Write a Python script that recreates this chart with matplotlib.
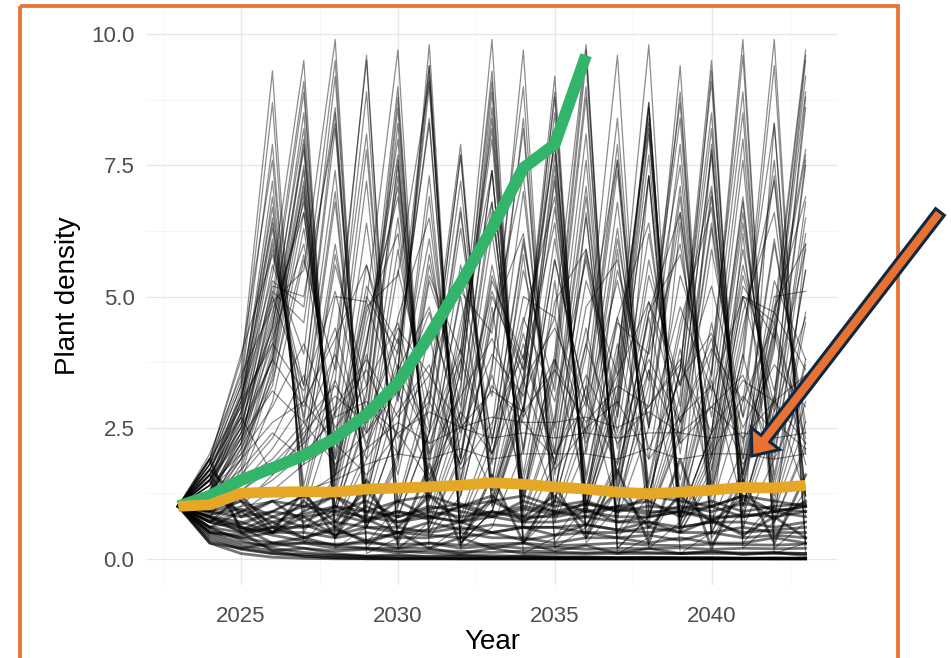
import matplotlib
matplotlib.use('Agg')
import matplotlib.pyplot as plt
import numpy as np
from matplotlib.patches import Rectangle, FancyArrow

plt.rcParams['font.family'] = ['Liberation Sans', 'DejaVu Sans']

years = list(range(2023, 2044))

# simulated runs (one list per run, 2023..2043)
runs_chaotic = [
    [1.0, 1.9, 3.4, 8.7, 0.5, 1.6, 4.2, 7.1, 1.2, 3.6, 9.1, 0.3, 1.1, 3.3, 8.4, 0.8, 2.4, 6.9, 1.5, 4.4, 7.8],
    [1.0, 1.7, 2.9, 6.9, 1.4, 4.0, 9.5, 0.2, 0.7, 2.3, 6.2, 2.1, 5.7, 3.0, 7.6, 1.0, 3.1, 9.3, 0.3, 1.0, 3.0],
    [1.0, 1.5, 3.1, 5.4, 9.5, 0.2, 0.6, 2.0, 5.8, 2.6, 6.8, 1.3, 3.9, 9.7, 0.2, 0.8, 2.6, 7.0, 1.4, 4.1, 8.9],
    [1.0, 2.0, 3.5, 4.8, 8.9, 0.5, 1.5, 4.6, 6.5, 1.9, 5.3, 3.8, 8.0, 0.9, 2.8, 8.1, 0.8, 2.4, 6.6, 2.0, 5.5],
    [1.0, 1.2, 2.2, 4.9, 5.5, 9.9, 0.1, 0.4, 1.4, 4.3, 7.4, 1.1, 3.4, 8.8, 0.5, 1.5, 4.5, 6.7, 1.6, 4.8, 6.0],
    [1.0, 1.6, 2.7, 5.9, 3.0, 7.4, 1.0, 3.1, 9.8, 0.2, 0.6, 2.1, 6.1, 2.3, 6.3, 1.9, 5.4, 3.5, 8.5, 0.7, 2.2],
    [1.0, 0.9, 1.8, 3.9, 7.9, 1.0, 3.2, 8.6, 0.6, 1.9, 5.6, 2.8, 7.2, 1.2, 3.7, 9.8, 0.1, 0.5, 1.6, 4.7, 6.9],
    [1.0, 1.4, 2.5, 5.1, 4.5, 8.6, 0.6, 1.8, 5.3, 3.4, 8.6, 0.6, 1.8, 5.3, 3.5, 8.7, 0.5, 1.6, 4.7, 6.6, 2.0],
    [1.0, 1.8, 3.3, 6.4, 2.2, 6.0, 2.4, 6.5, 1.8, 5.1, 4.3, 9.0, 0.3, 1.0, 3.2, 8.7, 0.5, 1.5, 4.4, 7.2, 1.2],
    [1.0, 1.1, 2.0, 4.3, 7.0, 1.5, 4.5, 6.9, 1.5, 4.5, 6.8, 1.6, 4.9, 5.9, 2.7, 7.3, 1.1, 3.5, 9.6, 0.2, 0.7],
    [1.0, 1.3, 2.6, 5.6, 3.9, 9.2, 0.3, 1.0, 3.0, 7.7, 1.0, 3.2, 8.5, 0.6, 1.8, 5.4, 3.3, 8.2, 0.8, 2.5, 6.5],
    [1.0, 1.9, 3.8, 7.6, 1.1, 3.4, 8.9, 0.4, 1.3, 4.0, 8.2, 0.8, 2.6, 7.1, 1.3, 4.0, 7.5, 1.2, 3.7, 9.4, 0.3],
    [1.0, 0.8, 1.6, 3.5, 6.6, 1.9, 5.2, 4.1, 9.4, 0.3, 0.9, 2.9, 7.5, 1.1, 3.4, 8.6, 0.6, 1.9, 5.6, 2.9, 7.6],
    [1.0, 1.5, 2.8, 6.1, 2.6, 6.8, 1.3, 4.0, 8.3, 0.8, 2.5, 7.0, 1.6, 4.8, 5.7, 2.6, 7.1, 1.3, 3.9, 9.9, 0.1],
    [1.0, 1.7, 3.0, 7.2, 1.2, 3.7, 9.6, 0.2, 0.6, 2.0, 5.4, 3.6, 8.8, 0.5, 1.6, 4.7, 6.6, 1.9, 5.2, 4.2, 9.2],
    [1.0, 1.2, 2.3, 4.6, 8.2, 0.7, 2.1, 5.9, 2.5, 6.7, 1.5, 4.5, 6.9, 1.5, 4.6, 6.4, 2.0, 5.9, 2.7, 7.6, 1.0],
    [1.0, 1.6, 3.2, 6.7, 1.8, 5.0, 4.9, 9.7, 0.2, 0.6, 1.9, 5.5, 3.2, 8.1, 0.8, 2.5, 6.9, 1.4, 4.2, 8.3, 0.8],
    [1.0, 1.0, 1.9, 4.0, 7.5, 1.3, 4.1, 8.0, 0.9, 2.8, 7.4, 1.2, 3.7, 9.5, 0.2, 0.8, 2.3, 6.4, 2.2, 6.1, 2.4],
    [1.0, 1.8, 3.6, 9.3, 0.3, 1.0, 3.1, 8.3, 0.8, 2.5, 6.6, 2.0, 5.7, 3.0, 7.9, 0.9, 2.8, 7.8, 1.0, 3.0, 8.8],
    [1.0, 1.4, 2.4, 5.3, 4.8, 9.5, 0.2, 0.8, 2.4, 6.3, 2.2, 6.0, 2.5, 6.9, 1.4, 4.2, 8.7, 0.5, 1.7, 5.0, 5.1],
    [1.0, 1.3, 2.1, 3.3, 6.3, 2.3, 6.4, 1.9, 5.4, 3.9, 9.9, 0.1, 0.4, 1.2, 3.8, 8.4, 0.7, 2.0, 5.9, 2.5, 6.8],
    [1.0, 1.7, 3.1, 5.0, 9.1, 0.4, 1.2, 3.6, 9.0, 0.4, 1.2, 3.5, 9.2, 0.3, 1.0, 3.0, 7.9, 1.0, 3.0, 7.3, 1.2],
    [1.0, 1.9, 2.9, 4.2, 6.0, 2.7, 7.2, 1.1, 3.3, 7.9, 1.0, 2.9, 6.7, 2.0, 5.5, 3.4, 8.9, 0.4, 1.3, 4.0, 9.5],
    [1.0, 0.9, 1.5, 3.0, 5.7, 3.6, 8.1, 0.8, 2.4, 6.6, 1.8, 5.0, 4.6, 9.8, 0.1, 0.4, 1.3, 3.9, 8.9, 0.4, 1.3],
    [1.0, 1.6, 2.6, 4.4, 7.8, 0.9, 2.7, 7.6, 1.1, 3.3, 8.4, 0.7, 2.1, 5.8, 2.4, 6.2, 2.2, 6.3, 1.9, 5.3, 3.8],
    [1.0, 1.5, 3.0, 6.3, 2.0, 5.6, 3.3, 8.8, 0.5, 1.5, 4.6, 6.2, 2.0, 5.9, 2.9, 7.7, 1.0, 3.1, 8.0, 0.9, 2.6],
    [1.0, 1.2, 2.4, 3.8, 7.1, 1.6, 4.8, 5.4, 9.1, 0.4, 1.1, 3.4, 8.0, 0.9, 2.7, 7.3, 1.2, 3.6, 9.9, 0.1, 0.3],
    [1.0, 1.8, 3.3, 7.9, 0.9, 2.8, 7.8, 1.0, 2.9, 7.2, 1.3, 3.8, 7.9, 1.0, 3.0, 8.6, 0.6, 1.7, 5.0, 4.7, 9.7],
    [1.0, 1.1, 1.9, 3.6, 6.9, 1.7, 5.0, 3.9, 8.4, 0.7, 2.2, 6.1, 2.3, 6.5, 1.5, 4.7, 5.8, 2.7, 7.6, 1.2, 3.8],
    [1.0, 1.4, 2.7, 5.2, 5.0, 8.3, 0.8, 2.5, 7.3, 1.2, 3.7, 8.2, 0.8, 2.5, 6.8, 1.4, 4.3, 7.1, 1.4, 4.2, 7.7],
    [1.0, 1.3, 2.8, 4.4, 8.5, 0.6, 1.9, 5.5, 3.0, 7.7, 1.1, 3.3, 8.9, 0.4, 1.3, 4.0, 8.4, 0.7, 2.1, 6.0, 2.6],
    [1.0, 1.9, 3.9, 5.8, 3.3, 8.5, 0.6, 1.9, 5.6, 2.9, 7.4, 1.2, 3.6, 9.0, 0.4, 1.2, 3.6, 9.1, 0.4, 1.1, 3.4],
    [1.0, 0.8, 1.7, 3.7, 7.2, 1.4, 4.1, 7.7, 1.1, 3.2, 8.9, 0.4, 1.3, 4.1, 7.6, 1.2, 3.6, 8.5, 0.6, 1.9, 5.5],
    [1.0, 1.5, 2.5, 4.7, 6.6, 2.0, 5.6, 3.6, 9.2, 0.3, 0.9, 2.8, 7.7, 1.0, 3.1, 8.2, 0.8, 2.4, 6.8, 1.6, 4.7],
    [1.0, 1.2, 2.2, 5.0, 3.3, 8.2, 0.8, 2.5, 6.9, 1.5, 4.5, 7.3, 1.3, 3.9, 9.6, 0.2, 0.7, 2.2, 6.4, 2.2, 6.2],
    [1.0, 1.7, 2.8, 6.5, 1.9, 5.8, 2.8, 7.5, 1.2, 3.6, 9.3, 0.3, 0.9, 2.8, 7.4, 1.2, 3.6, 9.5, 0.2, 0.7, 2.1],
    [1.0, 1.4, 3.0, 4.1, 8.0, 0.9, 2.6, 7.3, 1.3, 3.8, 8.0, 0.9, 2.7, 7.6, 1.1, 3.3, 9.4, 0.3, 0.9, 2.8, 7.5],
    [1.0, 1.0, 2.1, 4.5, 6.8, 1.6, 4.7, 6.2, 2.0, 5.6, 3.1, 8.4, 0.7, 2.1, 6.1, 2.5, 6.6, 1.7, 5.0, 4.5, 9.6],
    [1.0, 1.8, 3.1, 6.0, 2.7, 7.0, 1.2, 3.6, 9.4, 0.3, 0.9, 2.7, 7.3, 1.3, 3.9, 8.3, 0.8, 2.4, 6.9, 1.5, 4.5],
    [1.0, 1.3, 2.3, 3.8, 7.4, 1.2, 3.7, 9.0, 0.4, 1.2, 3.6, 9.7, 0.2, 0.6, 1.9, 5.7, 2.9, 7.7, 1.0, 3.1, 8.6],
]

runs_moderate = [
    [1.0, 1.3, 1.9, 2.6, 3.0, 2.2, 2.9, 2.4, 2.8, 2.5, 2.7, 2.6, 2.6, 2.7, 2.5, 2.8, 2.4, 2.9, 2.3, 3.0, 2.2],
    [1.0, 0.7, 0.9, 1.3, 1.8, 2.2, 1.6, 2.4, 1.5, 2.6, 1.3, 2.9, 1.1, 3.3, 0.9, 3.6, 0.8, 3.4, 1.0, 3.1, 1.2],
    [1.0, 1.2, 1.6, 2.3, 3.5, 1.9, 3.9, 1.6, 4.3, 1.3, 4.8, 1.0, 5.3, 0.8, 5.9, 0.6, 6.4, 0.5, 6.2, 0.6, 6.0],
    [1.0, 0.8, 1.1, 1.5, 2.0, 2.7, 3.0, 2.0, 3.2, 1.8, 3.5, 1.5, 3.8, 1.3, 4.1, 1.2, 4.0, 1.3, 3.9, 1.4, 3.7],
    [1.0, 1.5, 2.3, 3.2, 2.6, 3.3, 2.4, 3.5, 2.2, 3.8, 2.0, 4.1, 1.8, 4.4, 1.6, 4.6, 1.5, 4.5, 1.6, 4.3, 1.8],
    [1.0, 0.6, 0.7, 0.9, 1.2, 1.6, 2.1, 2.6, 2.2, 2.5, 2.3, 2.4, 2.3, 2.4, 2.3, 2.4, 2.4, 2.3, 2.4, 2.3, 2.4],
    [1.0, 1.1, 1.3, 1.8, 2.4, 3.1, 2.6, 4.2, 1.9, 5.0, 1.4, 5.8, 1.0, 6.6, 0.7, 7.3, 0.5, 7.9, 0.4, 8.3, 0.3],
    [1.0, 0.9, 1.0, 1.1, 1.3, 1.5, 1.8, 2.0, 1.9, 2.1, 1.9, 2.0, 2.0, 2.0, 1.9, 2.1, 1.9, 2.0, 2.0, 1.9, 2.0],
    [1.0, 1.6, 2.5, 3.8, 2.9, 4.4, 2.1, 3.6, 4.8, 2.4, 3.9, 3.1, 4.6, 2.2, 3.5, 4.9, 2.6, 4.0, 3.0, 4.5, 2.3],
    [1.0, 1.4, 2.0, 2.9, 4.1, 2.5, 3.3, 4.5, 2.0, 3.1, 4.2, 2.7, 3.8, 2.4, 4.6, 2.1, 3.4, 4.3, 2.5, 3.7, 2.9],
    [1.0, 1.2, 1.7, 2.4, 1.9, 2.8, 3.6, 2.3, 3.0, 1.8, 3.3, 2.6, 1.9, 3.5, 2.2, 2.9, 3.8, 2.0, 3.1, 2.4, 3.4],
    [1.0, 0.9, 1.4, 2.1, 3.0, 4.2, 5.6, 3.1, 4.7, 2.6, 5.1, 3.4, 4.4, 2.9, 5.3, 2.5, 4.8, 3.2, 5.0, 2.8, 4.6],
    [1.0, 1.8, 2.7, 1.6, 2.3, 3.4, 1.9, 2.8, 3.7, 1.7, 2.6, 3.9, 2.0, 3.0, 1.8, 3.6, 2.2, 2.9, 3.5, 1.9, 3.2],
    [1.0, 1.1, 1.5, 1.9, 2.6, 1.8, 2.4, 3.2, 1.6, 2.8, 2.0, 3.4, 1.7, 2.5, 3.0, 1.9, 2.7, 3.3, 1.8, 2.6, 2.1],
    [1.0, 1.3, 2.2, 3.4, 5.8, 2.3, 4.9, 3.0, 6.1, 1.9, 5.0, 3.6, 6.4, 1.6, 4.5, 3.9, 6.0, 2.1, 5.4, 3.2, 5.9],
    [1.0, 0.7, 1.0, 1.6, 2.5, 3.9, 2.2, 3.7, 2.4, 4.0, 2.0, 4.3, 1.8, 4.1, 2.3, 3.8, 2.6, 4.2, 1.9, 4.4, 2.2],
    [1.0, 1.5, 2.4, 4.1, 3.2, 5.1, 2.6, 4.4, 3.5, 5.4, 2.3, 4.6, 3.0, 5.7, 2.1, 4.9, 3.3, 5.2, 2.7, 4.7, 3.6],
    [1.0, 1.0, 1.3, 1.7, 2.2, 2.9, 3.8, 2.7, 3.5, 2.5, 3.2, 2.8, 3.6, 2.6, 3.3, 2.9, 3.7, 2.4, 3.4, 3.0, 3.5],
]

runs_low = [
    [1.0, 0.7, 0.6, 0.5, 0.5, 0.4, 0.5, 0.4, 0.4, 0.5, 0.4, 0.4, 0.3, 0.4, 0.4, 0.3, 0.4, 0.3, 0.3, 0.4, 0.3],
    [1.0, 0.5, 0.4, 0.3, 0.3, 0.2, 0.2, 0.2, 0.2, 0.1, 0.2, 0.1, 0.1, 0.1, 0.1, 0.1, 0.1, 0.1, 0.1, 0.1, 0.1],
    [1.0, 0.9, 0.8, 0.9, 0.8, 0.9, 0.8, 0.7, 0.8, 0.7, 0.8, 0.7, 0.7, 0.8, 0.7, 0.7, 0.6, 0.7, 0.7, 0.6, 0.7],
    [1.0, 1.6, 0.8, 1.1, 0.7, 1.0, 0.9, 0.8, 1.0, 0.9, 0.8, 1.1, 0.9, 0.8, 1.0, 0.9, 0.9, 1.0, 0.8, 0.9, 1.0],
    [1.0, 0.4, 0.2, 0.1, 0.05, 0.02, 0.01, 0, 0, 0, 0, 0, 0, 0, 0, 0, 0, 0, 0, 0, 0],
    [1.0, 0.6, 0.35, 0.2, 0.12, 0.07, 0.04, 0.02, 0.01, 0, 0, 0, 0, 0, 0, 0, 0, 0, 0, 0, 0],
    [1.0, 0.8, 0.6, 0.45, 0.34, 0.26, 0.2, 0.15, 0.11, 0.08, 0.06, 0.05, 0.04, 0.03, 0.02, 0.02, 0.01, 0.01, 0.01, 0, 0],
    [1.0, 0.3, 0.1, 0.03, 0.01, 0, 0, 0, 0, 0, 0, 0, 0, 0, 0, 0, 0, 0, 0, 0, 0],
    [1.0, 1.9, 0.5, 0.15, 0.05, 0.02, 0, 0, 0, 0, 0, 0, 0, 0, 0, 0, 0, 0, 0, 0, 0],
    [1.0, 0.7, 1.2, 0.6, 1.1, 0.6, 1.0, 0.7, 0.9, 0.8, 0.9, 0.8, 0.8, 0.9, 0.8, 0.8, 0.9, 0.8, 0.8, 0.9, 0.8],
    [1.0, 0.6, 0.5, 0.6, 0.6, 0.7, 0.6, 0.6, 0.5, 0.6, 0.5, 0.6, 0.6, 0.5, 0.5, 0.6, 0.5, 0.5, 0.6, 0.5, 0.5],
    [1.0, 0.5, 0.3, 0.25, 0.3, 0.28, 0.3, 0.27, 0.3, 0.26, 0.28, 0.3, 0.25, 0.27, 0.3, 0.26, 0.25, 0.28, 0.27, 0.26, 0.28],
    [1.0, 1.7, 1.1, 0.5, 0.9, 1.2, 0.7, 1.1, 0.8, 1.0, 1.2, 0.7, 1.1, 0.9, 1.0, 1.1, 0.8, 1.0, 1.2, 0.9, 1.0],
    [1.0, 0.35, 0.18, 0.1, 0.08, 0.06, 0.05, 0.05, 0.04, 0.04, 0.03, 0.03, 0.03, 0.02, 0.02, 0.02, 0.02, 0.02, 0.01, 0.01, 0.01],
    [1.0, 0.8, 0.7, 0.5, 1.3, 0.4, 1.5, 0.3, 1.8, 0.25, 1.6, 0.3, 1.4, 0.4, 1.7, 0.3, 1.9, 0.2, 1.5, 0.3, 1.6],
    [1.0, 0.5, 0.45, 0.6, 0.4, 0.55, 0.35, 0.5, 0.45, 0.4, 0.5, 0.35, 0.45, 0.5, 0.4, 0.45, 0.35, 0.5, 0.4, 0.45, 0.4],
    [1.0, 1.2, 0.9, 1.1, 1.0, 1.2, 0.9, 1.1, 1.2, 1.0, 1.1, 1.2, 1.0, 1.1, 0.9, 1.2, 1.1, 1.0, 1.2, 1.1, 1.0],
    [1.0, 0.8, 0.5, 0.7, 0.4, 0.6, 0.3, 0.5, 0.2, 0.4, 0.2, 0.3, 0.15, 0.25, 0.1, 0.2, 0.1, 0.15, 0.08, 0.12, 0.06],
    [1.0, 0.6, 0.9, 0.5, 0.8, 0.45, 0.75, 0.5, 0.7, 0.55, 0.65, 0.6, 0.6, 0.65, 0.55, 0.7, 0.5, 0.75, 0.45, 0.8, 0.4],
    [1.0, 0.45, 0.25, 0.15, 0.2, 0.15, 0.18, 0.12, 0.16, 0.14, 0.12, 0.15, 0.13, 0.11, 0.14, 0.12, 0.1, 0.13, 0.11, 0.12, 0.1],
    [1.0, 0.9, 1.1, 0.8, 1.0, 0.9, 1.1, 0.8, 0.95, 1.05, 0.85, 1.0, 0.9, 1.05, 0.95, 0.85, 1.0, 0.9, 1.05, 0.95, 0.9],
    [1.0, 0.7, 0.55, 0.8, 0.6, 0.85, 0.7, 0.9, 0.75, 1.0, 0.8, 0.95, 0.85, 1.05, 0.9, 1.0, 0.95, 1.1, 0.9, 1.0, 1.05],
    [1.0, 1.5, 0.6, 0.3, 0.4, 0.25, 0.35, 0.2, 0.3, 0.2, 0.25, 0.2, 0.22, 0.18, 0.2, 0.19, 0.21, 0.18, 0.2, 0.19, 0.2],
    [1.0, 0.3, 0.2, 0.3, 0.2, 0.1, 0.05, 0.08, 0.04, 0.06, 0.03, 0.05, 0.02, 0.04, 0.02, 0.03, 0.02, 0.02, 0.01, 0.02, 0.01],
    [1.0, 0.75, 0.65, 0.9, 1.2, 0.7, 1.3, 0.6, 1.2, 0.7, 1.1, 0.8, 1.2, 0.65, 1.3, 0.6, 1.2, 0.7, 1.15, 0.75, 1.1],
    [1.0, 0.55, 0.4, 0.5, 0.65, 0.45, 0.6, 0.5, 0.55, 0.7, 0.5, 0.6, 0.45, 0.65, 0.55, 0.5, 0.6, 0.7, 0.5, 0.55, 0.6],
    [1.0, 0.85, 0.95, 0.7, 0.85, 1.0, 0.75, 0.9, 0.8, 0.7, 0.9, 0.75, 0.85, 0.95, 0.7, 0.8, 0.9, 0.75, 0.85, 0.8, 0.9],
]

# the two highlighted runs
green_years = list(range(2023, 2037))
green_vals = [1.0, 1.2, 1.5, 1.73, 1.97, 2.3, 2.75, 3.35, 4.25, 5.25, 6.3, 7.45, 7.9, 9.6]
gold_vals = [1.0, 1.03, 1.25, 1.27, 1.28, 1.27, 1.33, 1.35, 1.37, 1.4, 1.45,
             1.42, 1.37, 1.33, 1.27, 1.24, 1.27, 1.31, 1.36, 1.35, 1.4]

W, H = 951, 658
fig = plt.figure(figsize=(W / 100, H / 100), dpi=100)
fig.patch.set_facecolor('white')

# panel position in pixels (left, top, right, bottom)
pl, pt, pr, pb = 147, 8, 837, 585
ax = fig.add_axes([pl / W, 1 - pb / H, (pr - pl) / W, (pb - pt) / H])

for run in runs_chaotic + runs_moderate:
    v = np.array(run, dtype=float)
    v[v > 10] = np.nan
    ax.plot(years, v, color='black', lw=0.9, alpha=0.45, zorder=2)
for run in runs_low:
    ax.plot(years, run, color='black', lw=2.0, alpha=0.55, zorder=2)

ax.plot(green_years, green_vals, color='#33B46B', lw=8.5,
        solid_capstyle='butt', solid_joinstyle='round', zorder=3)
ax.plot(years, gold_vals, color='#E4A826', lw=7.8,
        solid_capstyle='butt', solid_joinstyle='round', zorder=4)

ax.set_xlim(2022, 2044)
ax.set_ylim(-0.5, 10.5)
ax.set_xticks([2025, 2030, 2035, 2040])
ax.set_xticks([2022.5, 2027.5, 2032.5, 2037.5, 2042.5], minor=True)
ax.set_yticks([0, 2.5, 5, 7.5, 10])
ax.set_yticklabels(['0.0', '2.5', '5.0', '7.5', '10.0'])
ax.set_yticks([1.25, 3.75, 6.25, 8.75], minor=True)
ax.grid(which='major', color='#E6E6E6', lw=0.9)
ax.grid(which='minor', color='#F2F2F2', lw=0.5)
ax.set_axisbelow(True)
for s in ax.spines.values():
    s.set_visible(False)
ax.tick_params(which='both', length=0)
ax.tick_params(axis='x', labelsize=16, labelcolor='#4D4D4D', pad=15)
ax.tick_params(axis='y', labelsize=16, labelcolor='#4D4D4D', pad=9)

fig.text(492 / W, 1 - 642 / H, 'Year', ha='center', va='center', fontsize=20)
fig.text(68 / W, 1 - 296 / H, 'Plant density', ha='center', va='center',
         rotation=90, fontsize=20)

# overlay in pixel coordinates: orange frame and arrow
ov = fig.add_axes([0, 0, 1, 1], zorder=10)
ov.set_xlim(0, W)
ov.set_ylim(H, 0)
ov.axis('off')
ov.patch.set_alpha(0)
ov.add_patch(Rectangle((20, 6), 878, 720, fill=False, ec='#E97132', lw=2.7))
ov.add_patch(FancyArrow(940, 212, -188, 244, width=11, head_width=36,
                        head_length=22, length_includes_head=True,
                        fc='#E97132', ec='#0E2841', lw=2.2))

plt.savefig('out.png', dpi=100)
